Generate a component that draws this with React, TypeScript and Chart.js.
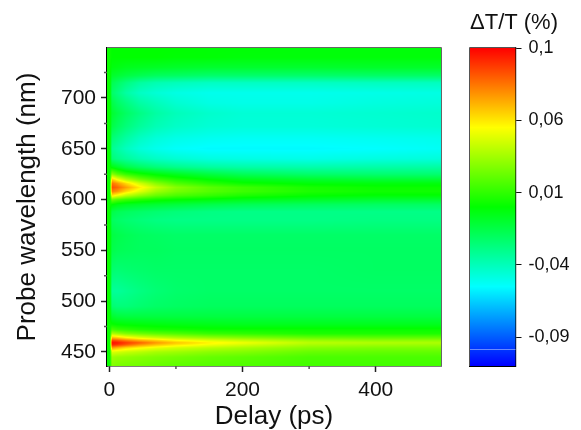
import React, { useEffect, useRef } from "react";
import { Chart, registerables } from "chart.js";

Chart.register(...registerables);

const FONT = "'Liberation Sans', Arial, sans-serif";

const delays = [-3.5, 1, 4, 12, 25, 45, 70, 100, 150, 200, 300, 400, 498];
const wavelengths = [
  749, 740, 730, 722, 715, 705, 695, 685, 672, 660, 650, 640, 632, 625, 620, 616, 612, 608, 604, 600,
  595, 588, 580, 565, 550, 530, 510, 495, 485, 477, 472, 468, 464, 461, 459, 457, 454, 450, 445, 436,
];
// Delta T/T in units of 0.001 %, one row per wavelength, one column per delay
const deltaT = [
  [-3, -3, -5, -5, -5, -5, -5, -5, -6, -6, -7, -7, -7],
  [-3, -3, -5, -5, -5, -5, -5, -6, -6, -7, -7, -7, -7],
  [-3, -3, -8, -9, -11, -12, -13, -14, -15, -15, -15, -14, -14],
  [-3, -3, -14, -16, -19, -22, -25, -26, -28, -28, -28, -27, -27],
  [-3, -3, -22, -26, -32, -39, -43, -45, -47, -47, -47, -46, -46],
  [-3, -3, -27, -32, -40, -47, -51, -54, -56, -56, -56, -55, -54],
  [-3, -3, -20, -26, -32, -40, -45, -50, -54, -55, -55, -53, -52],
  [-3, -3, -15, -20, -26, -33, -40, -45, -49, -51, -51, -50, -49],
  [-3, -3, -20, -25, -31, -38, -44, -48, -51, -52, -52, -51, -50],
  [-3, -3, -30, -34, -40, -47, -52, -55, -57, -58, -58, -57, -56],
  [-3, -3, -36, -40, -46, -52, -56, -59, -61, -61, -61, -60, -58],
  [-3, -3, -30, -34, -38, -43, -47, -50, -53, -54, -55, -53, -52],
  [-3, -3, -8, -13, -20, -26, -31, -35, -39, -41, -42, -41, -40],
  [-3, -3, 25, 15, 6, -1, -7, -12, -19, -24, -28, -29, -29],
  [-3, -3, 60, 47, 32, 18, 8, 1, -6, -11, -15, -17, -17],
  [-3, -3, 80, 72, 58, 40, 24, 12, 3, -3, -7, -8, -8],
  [-3, -3, 88, 83, 71, 54, 37, 24, 14, 8, 0, -3, -3],
  [-3, -3, 78, 72, 58, 44, 29, 20, 13, 8, 1, -2, -2],
  [-3, -3, 55, 47, 36, 26, 17, 11, 6, 1, -4, -6, -6],
  [-3, -3, 19, 13, 8, 3, -1, -4, -7, -10, -13, -15, -15],
  [-3, -3, -5, -9, -12, -14, -16, -18, -21, -23, -25, -26, -26],
  [-3, -3, -20, -23, -25, -27, -29, -31, -33, -34, -34, -34, -34],
  [-3, -3, -25, -27, -29, -31, -33, -34, -34, -34, -34, -33, -33],
  [-3, -3, -19, -21, -23, -25, -26, -27, -27, -27, -27, -27, -27],
  [-3, -3, -21, -23, -24, -25, -25, -26, -26, -26, -26, -26, -26],
  [-3, -3, -29, -30, -29, -28, -27, -27, -27, -27, -27, -26, -26],
  [-3, -3, -38, -38, -36, -33, -30, -28, -27, -27, -27, -27, -27],
  [-3, -3, -29, -31, -31, -29, -27, -26, -25, -25, -25, -25, -25],
  [-3, -3, -15, -18, -19, -19, -19, -19, -19, -19, -19, -19, -19],
  [-3, -3, -3, -5, -6, -7, -8, -9, -10, -11, -11, -11, -11],
  [-3, -3, 11, 7, 5, 2, 0, -1, -3, -3, -3, -3, -3],
  [-3, -3, 33, 29, 23, 19, 15, 12, 7, 5, 1, 1, 1],
  [-3, -3, 65, 61, 53, 45, 39, 33, 27, 23, 17, 15, 15],
  [-3, -3, 93, 89, 81, 71, 63, 53, 45, 39, 30, 27, 27],
  [-3, -3, 103, 100, 93, 85, 73, 63, 53, 47, 35, 33, 32],
  [-3, -3, 97, 93, 85, 73, 63, 55, 47, 41, 31, 29, 28],
  [-3, -3, 71, 65, 57, 51, 45, 40, 35, 31, 24, 22, 22],
  [-3, -3, 43, 41, 38, 35, 31, 29, 25, 23, 17, 16, 16],
  [-3, -3, 29, 27, 26, 24, 22, 20, 17, 15, 11, 11, 11],
  [-3, -3, 23, 21, 20, 19, 17, 15, 13, 12, 9, 9, 9],
];

const xTicks = [0, 200, 400];
const xMinorTicks = [100, 300];
const yTicks = [450, 500, 550, 600, 650, 700];
const yMinorTicks = [475, 525, 575, 625, 675, 725];
const colorTickValues = [0.105, 0.055, 0.005, -0.045, -0.095];
const colorTickLabels = ["0,1", "0,06", "0,01", "-0,04", "-0,09"];
const colorValues = [-0.115, -0.06, -0.005, 0.05, 0.105];
const colorRGB = [
  [0, 0, 255],
  [0, 255, 255],
  [0, 255, 0],
  [255, 255, 0],
  [255, 0, 0],
];

function colorAt(v: number) {
  const n = colorValues.length;
  if (v <= colorValues[0]) return colorRGB[0];
  if (v >= colorValues[n - 1]) return colorRGB[n - 1];
  let i = 0;
  while (v > colorValues[i + 1]) i++;
  const t = (v - colorValues[i]) / (colorValues[i + 1] - colorValues[i]);
  return colorRGB[i].map((c, k) => c + (colorRGB[i + 1][k] - c) * t);
}

function bracket(arr: number[], v: number) {
  const asc = arr[arr.length - 1] > arr[0];
  let i = 0;
  while (i < arr.length - 2 && (asc ? v > arr[i + 1] : v < arr[i + 1])) i++;
  const t = (v - arr[i]) / (arr[i + 1] - arr[i]);
  return [i, Math.max(0, Math.min(1, t))];
}

const heatmapPlugin = {
  id: "heatmap",
  beforeDatasetsDraw(chart: any) {
    const { ctx, chartArea: a, scales } = chart;
    const w = Math.round(a.right - a.left);
    const h = Math.round(a.bottom - a.top);
    const img = ctx.createImageData(w, h);
    for (let py = 0; py < h; py++) {
      const [r, tr] = bracket(wavelengths, scales.y.getValueForPixel(a.top + py + 0.5));
      for (let px = 0; px < w; px++) {
        const [c, tc] = bracket(delays, scales.x.getValueForPixel(a.left + px + 0.5));
        const top = deltaT[r][c] * (1 - tc) + deltaT[r][c + 1] * tc;
        const bot = deltaT[r + 1][c] * (1 - tc) + deltaT[r + 1][c + 1] * tc;
        const rgb = colorAt((top * (1 - tr) + bot * tr) / 1000);
        const o = (py * w + px) * 4;
        img.data[o] = rgb[0];
        img.data[o + 1] = rgb[1];
        img.data[o + 2] = rgb[2];
        img.data[o + 3] = 255;
      }
    }
    ctx.putImageData(img, Math.round(a.left), Math.round(a.top));
  },
  afterDraw(chart: any) {
    const { ctx, chartArea: a, scales } = chart;
    ctx.save();
    ctx.strokeStyle = "#666";
    ctx.lineWidth = 1;
    ctx.beginPath();
    ctx.moveTo(a.left, a.top - 0.5);
    ctx.lineTo(a.right + 0.5, a.top - 0.5);
    ctx.lineTo(a.right + 0.5, a.bottom);
    ctx.stroke();
    ctx.strokeStyle = "#555";
    ctx.lineWidth = 1.5;
    ctx.beginPath();
    for (const v of xMinorTicks) {
      const x = scales.x.getPixelForValue(v);
      ctx.moveTo(x, a.bottom);
      ctx.lineTo(x, a.bottom + 3);
    }
    for (const v of yMinorTicks) {
      const y = scales.y.getPixelForValue(v);
      ctx.moveTo(a.left, y);
      ctx.lineTo(a.left - 3, y);
    }
    ctx.stroke();
    ctx.restore();
  },
};

const colorbarFramePlugin = {
  id: "colorbarFrame",
  afterDraw(chart: any) {
    const { ctx, chartArea: a, scales } = chart;
    ctx.save();
    const y = scales.y.getPixelForValue(-0.1035);
    ctx.strokeStyle = "rgba(130,160,255,0.8)";
    ctx.lineWidth = 1;
    ctx.beginPath();
    ctx.moveTo(a.left, Math.round(y) + 0.5);
    ctx.lineTo(a.right, Math.round(y) + 0.5);
    ctx.stroke();
    ctx.strokeStyle = "#555";
    ctx.beginPath();
    ctx.moveTo(a.left - 0.5, a.bottom);
    ctx.lineTo(a.left - 0.5, a.top - 0.5);
    ctx.lineTo(a.right, a.top - 0.5);
    ctx.stroke();
    ctx.strokeStyle = "#000";
    ctx.lineWidth = 1.2;
    ctx.beginPath();
    ctx.moveTo(a.left - 1, a.bottom + 0.5);
    ctx.lineTo(a.right, a.bottom + 0.5);
    ctx.stroke();
    ctx.restore();
  },
};

export default function App() {
  const mainRef = useRef<HTMLCanvasElement>(null);
  const barRef = useRef<HTMLCanvasElement>(null);

  useEffect(() => {
    const cells: { x: number; y: number; v: number }[] = [];
    wavelengths.forEach((wl, r) =>
      delays.forEach((d, c) => cells.push({ x: d, y: wl, v: deltaT[r][c] / 1000 }))
    );

    const main = new Chart(mainRef.current!, {
      type: "scatter",
      data: { datasets: [{ data: cells, pointRadius: 0, pointHoverRadius: 0 } as any] },
      plugins: [heatmapPlugin],
      options: {
        responsive: false,
        animation: false,
        layout: { padding: { top: 48, right: 8, left: 0, bottom: 0 } },
        plugins: { legend: { display: false }, tooltip: { enabled: false } },
        scales: {
          x: {
            type: "linear",
            min: -3.5,
            max: 498,
            z: 1,
            afterFit: (s: any) => {
              s.height = 64;
            },
            afterBuildTicks: (s: any) => {
              s.ticks = xTicks.map((value) => ({ value }));
            },
            grid: { drawOnChartArea: false, drawTicks: true, tickLength: 6, tickColor: "#222", tickWidth: 1.5 },
            border: { color: "#000", width: 1.5 },
            ticks: { color: "#111", font: { family: FONT, size: 21 }, padding: 6, maxRotation: 0 },
            title: { display: true, text: "Delay (ps)", color: "#111", font: { family: FONT, size: 26 }, padding: { top: 0, bottom: -2 } },
          },
          y: {
            type: "linear",
            min: 436.2,
            max: 749.2,
            z: 1,
            afterFit: (s: any) => {
              s.width = 107;
            },
            afterBuildTicks: (s: any) => {
              s.ticks = yTicks.map((value) => ({ value }));
            },
            grid: { drawOnChartArea: false, drawTicks: true, tickLength: 6, tickColor: "#222", tickWidth: 1.5 },
            border: { color: "#000", width: 1.5 },
            ticks: { color: "#111", font: { family: FONT, size: 21 }, padding: 5 },
            title: { display: true, text: "Probe wavelength (nm)", color: "#111", font: { family: FONT, size: 26 }, padding: { top: 12, bottom: 0 } },
          },
        },
      } as any,
    });

    const bar = new Chart(barRef.current!, {
      type: "bar",
      data: {
        labels: ["scale"],
        datasets: [
          {
            data: [[colorValues[0], colorValues[colorValues.length - 1]]],
            barPercentage: 1,
            categoryPercentage: 1,
            backgroundColor: (c: any) => {
              const { chart } = c;
              if (!chart.chartArea) return "#00ff00";
              const y = chart.scales.y;
              const g = chart.ctx.createLinearGradient(0, y.getPixelForValue(colorValues[0]), 0, y.getPixelForValue(colorValues[4]));
              colorValues.forEach((v, i) => {
                g.addColorStop(i / (colorValues.length - 1), `rgb(${colorRGB[i].join(",")})`);
              });
              return g;
            },
          } as any,
        ],
      },
      plugins: [colorbarFramePlugin],
      options: {
        responsive: false,
        animation: false,
        layout: { padding: { top: 0, left: 21, right: 0, bottom: 64 } },
        plugins: {
          legend: { display: false },
          tooltip: { enabled: false },
          title: {
            display: true,
            text: "ΔT/T (%)",
            align: "start",
            color: "#111",
            font: { family: FONT, size: 22, weight: "normal", lineHeight: 1.2 },
            padding: { top: 10, bottom: 11.6 },
          },
        },
        scales: {
          x: { display: false },
          y: {
            type: "linear",
            position: "right",
            min: colorValues[0],
            max: colorValues[4],
            z: 1,
            afterFit: (s: any) => {
              s.width = 65.5;
            },
            afterBuildTicks: (s: any) => {
              s.ticks = colorTickValues.map((value) => ({ value }));
            },
            grid: { drawOnChartArea: false, drawTicks: true, tickLength: 6, tickColor: "#111", tickWidth: 1 },
            border: { color: "#000", width: 1.2 },
            ticks: {
              color: "#111",
              font: { family: FONT, size: 18 },
              padding: 7,
              callback: (_: any, i: number) => colorTickLabels[i],
            },
          },
        },
      } as any,
    });

    return () => {
      main.destroy();
      bar.destroy();
    };
  }, []);

  return (
    <>
      <canvas ref={mainRef} width={449} height={430} style={{ position: "absolute", left: 0, top: 0 }} />
      <canvas ref={barRef} width={132} height={430} style={{ position: "absolute", left: 449, top: 0 }} />
    </>
  );
}
